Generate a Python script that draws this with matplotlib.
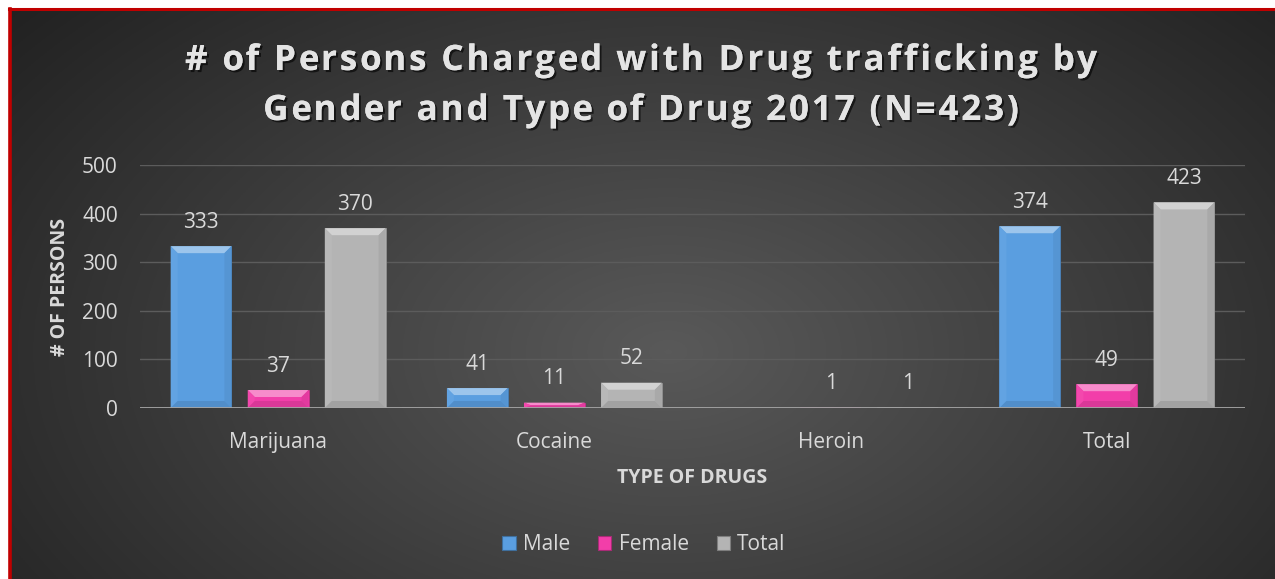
import numpy as np
import matplotlib
matplotlib.use("Agg")
import matplotlib.pyplot as plt
from matplotlib.patches import Polygon, Rectangle, PathPatch
from matplotlib.lines import Line2D
from matplotlib.path import Path
from matplotlib.textpath import TextPath, text_to_path
from matplotlib.transforms import IdentityTransform, Affine2D
from matplotlib.font_manager import FontProperties
import matplotlib.patheffects as pe

categories = ["Marijuana", "Cocaine", "Heroin", "Total"]
male = [333, 41, None, 374]
female = [37, 11, 1, 49]
total = [370, 52, 1, 423]
series_names = ["Male", "Female", "Total"]
series_colors = ["#5a9ee0", "#f23ea9", "#b4b4b4"]
y_ticks = [0, 100, 200, 300, 400, 500]
title_lines = ["# of Persons Charged with Drug trafficking by",
               "Gender and Type of Drug 2017 (N=423)"]

W, H = 1275, 579
TEXT = "#d9d9d9"
FONT = ["Open Sans", "DejaVu Sans"]


def shade(color, f):
    c = np.array(matplotlib.colors.to_rgb(color))
    if f > 0:
        c = c + (1 - c) * f
    else:
        c = c * (1 + f)
    return tuple(np.clip(c, 0, 1))


def draw_background(fig):
    bg = fig.add_axes([9 / W, 0, 1 - 9 / W, 1 - 9 / H], zorder=-10)
    h, w = 300, 640
    yy, xx = np.mgrid[0:h, 0:w]
    cx, cy = 0.52 * w, 0.60 * h
    r = np.sqrt(((xx - cx) / (0.62 * w)) ** 2 + ((yy - cy) / (0.85 * h)) ** 2)
    v = 0.35 - 0.20 * np.clip(r, 0, 1.2)
    bg.imshow(np.dstack([v, v, v]), aspect="auto", extent=[0, 1, 0, 1], origin="upper")
    bg.set_axis_off()
    fig.add_artist(Line2D([9 / W, 1], [1 - 9 / H, 1 - 9 / H], color="#c00000", lw=2.2))
    fig.add_artist(Line2D([10 / W, 10 / W], [0, 1 - 9 / H], color="#c00000", lw=2.6))


def advance(ch, prop):
    # ink width of "x?x" minus ink width of "xx" gives the advance of "?"
    w1 = text_to_path.get_text_width_height_descent("x" + ch + "x", prop, ismath=False)[0]
    w0 = text_to_path.get_text_width_height_descent("xx", prop, ismath=False)[0]
    return w1 - w0


def spaced_path(s, prop, spacing):
    # build a text path char by char so extra letter spacing can be added
    paths, x = [], 0.0
    for ch in s:
        if ch != " ":
            paths.append(TextPath((x, 0), ch, prop=prop))
        x += advance(ch, prop) + spacing
    return Path.make_compound_path(*paths), x - spacing


def draw_title(fig):
    prop = FontProperties(family="Open Sans", weight="bold", size=35)
    target_width = 912
    _, natural = spaced_path(title_lines[0], prop, 0)
    spacing = (target_width - natural) / (len(title_lines[0]) - 1)
    shadow = [pe.withSimplePatchShadow(offset=(1.5, -1.5), shadow_rgbFace="black", alpha=0.6), pe.Normal()]
    for line, baseline in zip(title_lines, [70, 120]):
        path, width = spaced_path(line, prop, spacing)
        tr = Affine2D().translate(641 - width / 2, H - baseline)
        patch = PathPatch(tr.transform_path(path), facecolor="#e4e4e4", edgecolor="none",
                          transform=IdentityTransform(), path_effects=shadow)
        fig.add_artist(patch)


def bevel_bar(ax, x, w, h, color, bx, by):
    if h is None or h <= 0:
        return
    ax.add_patch(Rectangle((x, 0), w, h, facecolor=color, edgecolor=shade(color, -0.2), lw=0.6, zorder=3))
    by = min(by, h / 2)
    top = Polygon([(x, h), (x + w, h), (x + w - bx, h - by), (x + bx, h - by)],
                  closed=True, facecolor=shade(color, 0.4), edgecolor="none", zorder=4)
    left = Polygon([(x, h), (x + bx, h - by), (x + bx, by), (x, 0)],
                   closed=True, facecolor=shade(color, 0.05), edgecolor="none", zorder=4)
    right = Polygon([(x + w, h), (x + w - bx, h - by), (x + w - bx, by), (x + w, 0)],
                    closed=True, facecolor=shade(color, -0.06), edgecolor="none", zorder=4)
    base = Polygon([(x, 0), (x + w, 0), (x + w - bx, by), (x + bx, by)],
                   closed=True, facecolor=shade(color, -0.1), edgecolor="none", zorder=4)
    for p in (top, left, right, base):
        ax.add_patch(p)


def plot_chart():
    fig = plt.figure(figsize=(W / 100, H / 100), dpi=100, facecolor="white")
    draw_background(fig)
    draw_title(fig)

    left, right, top, bottom = 140, 1245, 165, 408
    ax = fig.add_axes([left / W, 1 - bottom / H, (right - left) / W, (bottom - top) / H])
    ax.set_facecolor("none")
    ax.set_xlim(-0.5, len(categories) - 0.5)
    ax.set_ylim(0, 500)

    x = np.arange(len(categories))
    width, step = 0.22, 0.279
    px_x = len(categories) / (right - left)
    px_y = 500 / (bottom - top)
    bx, by = 7 * px_x, 7 * px_y
    for i, (values, color) in enumerate(zip([male, female, total], series_colors)):
        off = (i - 1) * step
        for xi, v in zip(x, values):
            bevel_bar(ax, xi + off - width / 2, width, v, color, bx, by)
            if v is not None:
                ax.text(xi + off, v + 24 * px_y, str(v), ha="center", va="center",
                        fontsize=15, color=TEXT, family=FONT, zorder=5)

    ax.set_yticks(y_ticks)
    ax.set_xticks(x)
    ax.set_xticklabels(categories)
    ax.tick_params(axis="both", length=0, labelsize=15, labelcolor=TEXT)
    ax.tick_params(axis="y", pad=16)
    ax.tick_params(axis="x", pad=17)
    for lab in ax.get_xticklabels() + ax.get_yticklabels():
        lab.set_family(FONT)
    ax.grid(axis="y", color="#5c5c5c", lw=1, zorder=0)
    ax.set_axisbelow(True)
    for s in ax.spines.values():
        s.set_visible(False)
    ax.axhline(0, color="#a6a6a6", lw=2, zorder=6)

    ax.set_ylabel("# OF PERSONS", fontsize=14, fontweight="bold", color=TEXT, family=FONT)
    ax.yaxis.set_label_coords((60 - left) / (right - left), 0.5)
    ax.set_xlabel("TYPE OF DRUGS", fontsize=14, fontweight="bold", color=TEXT, family=FONT)
    ax.xaxis.set_label_coords(0.5, -(478 - bottom) / (bottom - top))
    ax.xaxis.label.set_va("center")
    ax.yaxis.label.set_va("center")

    handles = [Rectangle((0, 0), 1, 1, facecolor=c, edgecolor=shade(c, -0.3), lw=0.8) for c in series_colors]
    leg = fig.legend(handles, series_names, loc="center", bbox_to_anchor=(644 / W, 1 - 545 / H),
                     ncol=3, frameon=False, handlelength=0.63, handleheight=0.63, handletextpad=0.35,
                     columnspacing=1.35, prop={"family": FONT, "size": 15})
    for t in leg.get_texts():
        t.set_color(TEXT)

    fig.savefig("out.png", dpi=100, facecolor="white")


if __name__ == "__main__":
    plot_chart()
